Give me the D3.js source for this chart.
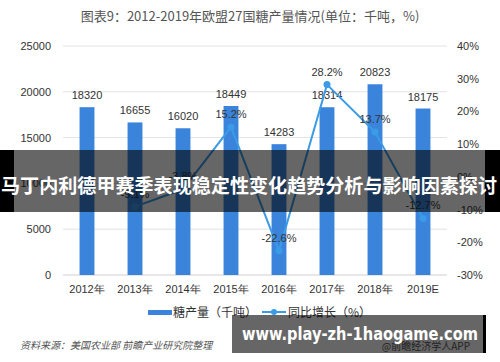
<!DOCTYPE html>
<html>
<head>
<meta charset="utf-8">
<script src="https://cdn.jsdelivr.net/npm/d3@7"></script>
<style>
body { margin: 0; background: #fff; }
svg { display: block; font-family: "Noto Sans CJK SC", "Noto Sans", sans-serif; }
</style>
</head>
<body>
<script>
// chart data
let years = ["2012年", "2013年", "2014年", "2015年", "2016年", "2017年", "2018年", "2019E"];
let output = [18320, 16655, 16020, 18449, 14283, 18314, 20823, 18175];
let growth = [null, -9.1, -3.8, 15.2, -22.6, 28.2, 13.7, -12.7];
let leftTicks = [0, 5000, 10000, 15000, 20000, 25000];
let rightTicks = [-30, -20, -10, 0, 10, 20, 30, 40];

let svgWidth = 500, svgHeight = 362;
let margin = {top: 46, right: 53, bottom: 87, left: 63};
let width = svgWidth - margin.left - margin.right;
let height = svgHeight - margin.top - margin.bottom;

let barColor = "#3b84dc";
let lineColor = "#3a9be6";

let svg = d3.select("body").append("svg")
    .attr("width", svgWidth)
    .attr("height", svgHeight);

svg.append("text")
    .attr("x", 250).attr("y", 21)
    .attr("text-anchor", "middle")
    .attr("font-size", 13)
    .attr("fill", "#555")
    .text("图表9：2012-2019年欧盟27国糖产量情况(单位：千吨，%)");

let chartGroup = svg.append("g")
    .attr("transform", `translate(${margin.left}, ${margin.top})`);

let xScale = d3.scaleBand().domain(years).range([0, width]).paddingInner(0.69).paddingOuter(0.345);
let yScale = d3.scaleLinear().domain([0, 25000]).range([height, 0]);
let y2Scale = d3.scaleLinear().domain([-30, 40]).range([height, 0]);

// gridlines
chartGroup.selectAll(".grid")
    .data(leftTicks)
    .enter().append("line")
    .attr("x1", 0).attr("x2", width)
    .attr("y1", d => yScale(d)).attr("y2", d => yScale(d))
    .attr("stroke", d => d === 0 ? "#cfcfcf" : "#e3e3e3")
    .attr("stroke-width", 1);

let leftAxis = chartGroup.append("g")
    .attr("transform", "translate(-12,0)")
    .call(d3.axisLeft(yScale).tickValues(leftTicks).tickSize(0).tickPadding(0).tickFormat(d3.format("d")));
leftAxis.select(".domain").remove();
leftAxis.selectAll("text").attr("font-size", 11).attr("fill", "#333").style("font-family", "Liberation Sans, sans-serif");

let rightAxis = chartGroup.append("g")
    .attr("transform", `translate(${width + 10},0)`)
    .call(d3.axisRight(y2Scale).tickValues(rightTicks).tickSize(0).tickPadding(0).tickFormat(d => d + "%"));
rightAxis.select(".domain").remove();
rightAxis.selectAll("text").attr("font-size", 11).attr("fill", "#333").style("font-family", "Liberation Sans, sans-serif");

let bottomAxis = chartGroup.append("g")
    .attr("transform", `translate(0, ${height})`)
    .call(d3.axisBottom(xScale).tickSize(0).tickPadding(10));
bottomAxis.select(".domain").remove();
bottomAxis.selectAll("text").attr("font-size", 11).attr("fill", "#333");

// bars
chartGroup.selectAll(".bar")
    .data(output)
    .enter().append("rect")
    .attr("x", (d, i) => xScale(years[i]))
    .attr("y", d => yScale(d))
    .attr("width", xScale.bandwidth())
    .attr("height", d => height - yScale(d))
    .attr("fill", barColor);

chartGroup.selectAll(".barLabel")
    .data(output)
    .enter().append("text")
    .attr("x", (d, i) => xScale(years[i]) + xScale.bandwidth() / 2)
    .attr("y", d => yScale(d) - 8)
    .attr("text-anchor", "middle")
    .attr("font-size", 11)
    .attr("fill", "#333")
    .style("font-family", "Liberation Sans, sans-serif")
    .text(d => d);

// growth line
let pts = growth.map((g, i) => ({year: years[i], g: g})).filter(d => d.g !== null);
let line = d3.line()
    .x(d => xScale(d.year) + xScale.bandwidth() / 2)
    .y(d => y2Scale(d.g));

chartGroup.append("path")
    .datum(pts)
    .attr("d", line)
    .attr("fill", "none")
    .attr("stroke", lineColor)
    .attr("stroke-width", 2);

chartGroup.selectAll(".dot")
    .data(pts)
    .enter().append("circle")
    .attr("cx", d => xScale(d.year) + xScale.bandwidth() / 2)
    .attr("cy", d => y2Scale(d.g))
    .attr("r", 3.5)
    .attr("fill", lineColor);

chartGroup.selectAll(".lineLabel")
    .data(pts)
    .enter().append("text")
    .attr("x", d => xScale(d.year) + xScale.bandwidth() / 2)
    .attr("y", d => y2Scale(d.g) - 9)
    .attr("text-anchor", "middle")
    .attr("font-size", 11)
    .attr("fill", "#333")
    .style("font-family", "Liberation Sans, sans-serif")
    .text(d => d.g.toFixed(1) + "%");

// legend
let legend = svg.append("g").attr("transform", "translate(0,312)");
legend.append("rect").attr("x", 148).attr("y", -2).attr("width", 24).attr("height", 5).attr("fill", barColor);
legend.append("text").attr("x", 173).attr("y", 5).attr("font-size", 12).attr("fill", "#333").text("糖产量（千吨）");
legend.append("line").attr("x1", 262).attr("x2", 286).attr("y1", 0).attr("y2", 0).attr("stroke", lineColor).attr("stroke-width", 2);
legend.append("circle").attr("cx", 274).attr("cy", 0).attr("r", 3).attr("fill", lineColor);
legend.append("text").attr("x", 288).attr("y", 5).attr("font-size", 12).attr("fill", "#333").text("同比增长（%）");

// source notes
svg.append("text")
    .attr("x", 20).attr("y", 349)
    .attr("font-size", 10).attr("font-style", "italic").attr("fill", "#555")
    .text("资料来源：美国农业部 前瞻产业研究院整理");
svg.append("text")
    .attr("x", 470).attr("y", 350)
    .attr("text-anchor", "end")
    .attr("font-size", 10).attr("fill", "#555")
    .text("@前瞻经济学人APP");

// overlay banner with headline
svg.append("rect").attr("x", 0).attr("y", 150).attr("width", 500).attr("height", 62).attr("fill", "#000").attr("fill-opacity", 0.6);
svg.append("rect").attr("x", 0).attr("y", 150).attr("width", 14).attr("height", 62).attr("fill", "#000");
svg.append("rect").attr("x", 485).attr("y", 150).attr("width", 15).attr("height", 62).attr("fill", "#000");
svg.append("text")
    .attr("x", 1).attr("y", 193)
    .attr("font-size", 19.5).attr("font-weight", "bold").attr("fill", "#fff")
    .attr("textLength", 496).attr("lengthAdjust", "spacingAndGlyphs")
    .text("马丁内利德甲赛季表现稳定性变化趋势分析与影响因素探讨");

// bottom url banner
svg.append("rect").attr("x", 232).attr("y", 315).attr("width", 254).attr("height", 38).attr("fill", "#000").attr("fill-opacity", 0.6);
svg.append("rect").attr("x", 483).attr("y", 315).attr("width", 3).attr("height", 38).attr("fill", "#000");
svg.append("text")
    .attr("x", 242).attr("y", 340)
    .attr("font-size", 17).attr("font-weight", "bold").attr("fill", "#fff")
    .attr("textLength", 236).attr("lengthAdjust", "spacingAndGlyphs")
    .style("font-family", "DejaVu Sans, sans-serif")
    .text("www.play-zh-1haogame.com");
</script>
</body>
</html>
